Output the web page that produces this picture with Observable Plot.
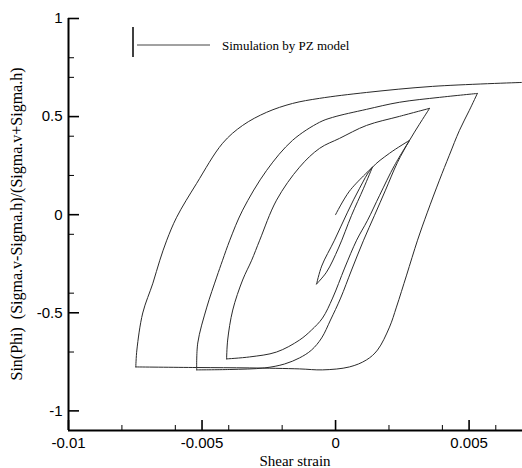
<!DOCTYPE html>
<html><head><meta charset="utf-8">
<script src="https://cdn.jsdelivr.net/npm/d3@7"></script>
<script src="https://cdn.jsdelivr.net/npm/@observablehq/plot@0.6"></script>
<style>body{margin:0;background:#fff;overflow:hidden}</style>
</head><body><div id="chart"></div>
<script>
const strain = [
  0.0, 0.00052, 0.00138,
  0.00105, 0.0006, 0.00011, -0.00034, -0.00071,
  -0.00052, -0.00004, 0.00045, 0.0009, 0.00135, 0.00202, 0.00277,
  0.00221, 0.00165, 0.0012, 0.00079, 0.00034, -0.00011, -0.00049, -0.0009, -0.00135, -0.00221, -0.00322, -0.00408,
  -0.00404, -0.00385, -0.00348, -0.00314, -0.00284, -0.00221, -0.00135, -0.0006, 0.00015, 0.00116, 0.00239, 0.00352,
  0.00314, 0.00277, 0.00232, 0.00187, 0.00146, 0.00105, 0.0006, 0.00019, -0.00019, -0.00052, -0.0009, -0.00135, -0.00191, -0.00266, -0.00396, -0.0052,
  -0.00516, -0.00482, -0.00445, -0.00423, -0.00396, -0.00348, -0.00258, -0.00161, -0.0006, -0.00011, 0.00116, 0.00239, 0.00389, 0.00531,
  0.00501, 0.00464, 0.00426, 0.00389, 0.00344, 0.00307, 0.00266, 0.00228, 0.00202, 0.00157, 0.00116, 0.00052, -0.00049, -0.00135, -0.00322, -0.0052, -0.00748,
  -0.00744, -0.00722, -0.00684, -0.00658, -0.00632, -0.00595, -0.0052, -0.00423, -0.00348, -0.00258, -0.00161, -0.0006, 0.00116, 0.00363, 0.00696
];
const sinPhi = [
  0.0, 0.12, 0.242,
  0.135, -0.003, -0.170, -0.293, -0.353,
  -0.262, -0.13, 0.013, 0.135, 0.237, 0.313, 0.379,
  0.252, 0.099, -0.028, -0.130, -0.272, -0.425, -0.527, -0.588, -0.639, -0.700, -0.725, -0.735,
  -0.639, -0.486, -0.333, -0.232, -0.130, 0.074, 0.242, 0.338, 0.389, 0.455, 0.501, 0.542,
  0.461, 0.379, 0.267, 0.125, -0.003, -0.130, -0.282, -0.425, -0.537, -0.628, -0.690, -0.730, -0.761, -0.781, -0.789, -0.791,
  -0.654, -0.471, -0.318, -0.232, -0.130, 0.023, 0.226, 0.379, 0.471, 0.496, 0.537, 0.573, 0.598, 0.618,
  0.532, 0.430, 0.303, 0.176, 0.013, -0.130, -0.308, -0.471, -0.573, -0.690, -0.740, -0.776, -0.791, -0.786, -0.781, -0.779, -0.776,
  -0.690, -0.501, -0.349, -0.232, -0.130, -0.013, 0.160, 0.364, 0.455, 0.522, 0.567, 0.593, 0.623, 0.654, 0.674
];
const xMajor = [-0.01, -0.005, 0, 0.005];
const xMajorLabels = ["-0.01", "-0.005", "0", "0.005"];
const xMinor = [-0.008, -0.006, -0.004, -0.002, 0.002, 0.004, 0.006];
const yMajor = [-1, -0.5, 0, 0.5, 1];
const yMajorLabels = ["-1", "-0.5", "0", "0.5", "1"];
const yMinor = [0.8, 0.7, 0.4, 0.2, -0.1, -0.4, -0.7];
const xTitle = "Shear strain";
const yTitle = "Sin(Phi)  (Sigma.v-Sigma.h)/(Sigma.v+Sigma.h)";
const legendLabel = "Simulation by PZ model";

// split the load path into branches at each strain reversal (reversal point shared by both branches)
const data = [];
let branch = 0;
for (let i = 0; i < strain.length; i++) {
  data.push({x: strain[i], y: sinPhi[i], branch});
  if (i > 0 && i < strain.length - 1) {
    const d0 = Math.sign(strain[i] - strain[i - 1]);
    const d1 = Math.sign(strain[i + 1] - strain[i]);
    if (d0 !== d1) {
      branch++;
      data.push({x: strain[i], y: sinPhi[i], branch});
    }
  }
}

const W = 522, H = 468, mL = 68, mR = 0, mT = 18, mB = 38;
const pw = W - mL - mR, ph = H - mT - mB;
const sansFont = "'Liberation Sans', Arial, sans-serif";
const serifFont = "'Liberation Serif', 'Times New Roman', serif";

const svg = Plot.plot({
  width: W, height: H,
  marginLeft: mL, marginRight: mR, marginTop: mT, marginBottom: mB,
  style: {fontFamily: sansFont, background: "#fff", color: "#000"},
  x: {domain: [-0.01, 0.007]},
  y: {domain: [-1.1, 1]},
  marks: [
    Plot.line(data, {x: "x", y: "y", z: "branch", stroke: "#2a2a2a", strokeWidth: 1, curve: "catmull-rom"}),
    Plot.tickX(xMajor, {x: d => d, insetTop: ph - 10, stroke: "#000", strokeWidth: 1.6}),
    Plot.tickX(xMinor, {x: d => d, insetTop: ph - 5, stroke: "#000", strokeWidth: 1}),
    Plot.tickY(yMajor, {y: d => d, insetRight: pw - 11, stroke: "#000", strokeWidth: 1.6}),
    Plot.tickY(yMinor, {y: d => d, insetRight: pw - 6, stroke: "#000", strokeWidth: 1}),
    Plot.ruleX([-0.01], {stroke: "#000", strokeWidth: 2}),
    Plot.ruleY([-1.1], {stroke: "#000", strokeWidth: 2}),
    Plot.axisX(xMajor, {tickSize: 0, tickPadding: 7, fontSize: 15, fill: "#000", label: null,
      tickFormat: d => xMajorLabels[xMajor.indexOf(d)]}),
    Plot.axisY(yMajor, {tickSize: 0, tickPadding: 6, fontSize: 15, fill: "#000", label: null,
      tickFormat: d => yMajorLabels[yMajor.indexOf(d)]})
  ]
});

const s = d3.select(svg);
s.append("text")
  .attr("x", mL + pw / 2).attr("y", 466)
  .attr("text-anchor", "middle")
  .attr("font-family", serifFont).attr("font-size", 15).attr("fill", "#000")
  .text(xTitle);
s.append("text")
  .attr("transform", `translate(16,${mT + ph / 2}) rotate(-90)`)
  .attr("text-anchor", "middle").attr("dominant-baseline", "central")
  .attr("font-family", serifFont).attr("font-size", 16).attr("fill", "#000")
  .text(yTitle);
const lg = s.append("g");
lg.append("line").attr("x1", 133).attr("x2", 133).attr("y1", 27).attr("y2", 57)
  .attr("stroke", "#000").attr("stroke-width", 1.5);
lg.append("line").attr("x1", 137).attr("x2", 210).attr("y1", 45).attr("y2", 45)
  .attr("stroke", "#444").attr("stroke-width", 1);
lg.append("text").attr("x", 222).attr("y", 49.5)
  .attr("text-anchor", "start")
  .attr("font-family", serifFont).attr("font-size", 13).attr("fill", "#000")
  .text(legendLabel);

document.getElementById("chart").appendChild(svg);
</script>
</body></html>
